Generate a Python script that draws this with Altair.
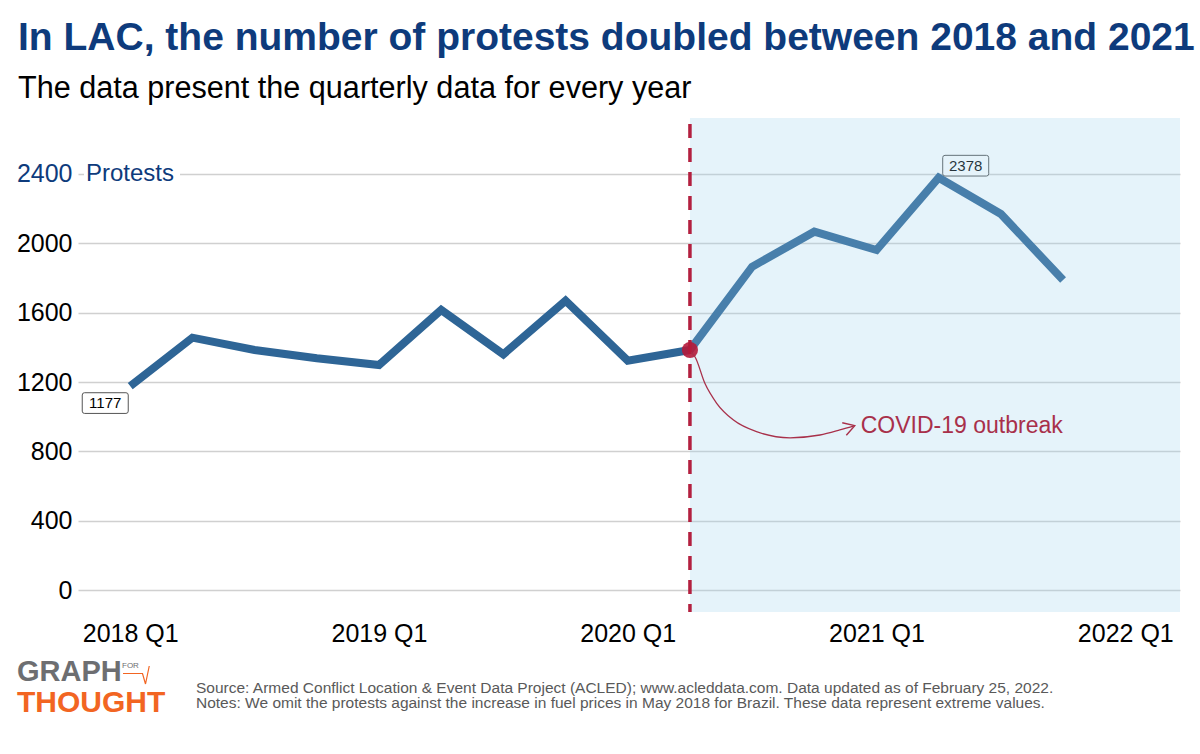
import altair as alt
import pandas as pd

# ---------------- data ----------------
quarters = ["2018 Q1", "2018 Q2", "2018 Q3", "2018 Q4",
            "2019 Q1", "2019 Q2", "2019 Q3", "2019 Q4",
            "2020 Q1", "2020 Q2", "2020 Q3", "2020 Q4",
            "2021 Q1", "2021 Q2", "2021 Q3", "2021 Q4"]
quarter_index = list(range(16))
protests = [1177, 1456, 1385, 1337, 1298, 1616, 1360, 1669,
            1323, 1385, 1865, 2067, 1961, 2378, 2169, 1788]

x_tick_values = [0, 4, 8, 12, 16]          # 2018 Q1 ... 2022 Q1
y_tick_values = [0, 400, 800, 1200, 1600, 2000, 2400]
covid_index = 9                             # 2020 Q2
covid_value = 1385

label_index = [0, 13]
label_value = [1177, 2378]
label_text = ["1177", "2378"]

# curved annotation arrow (quarter index, protests)
arrow_x = [9.02, 9.08, 9.24, 9.43, 9.70, 10.07, 10.61, 11.09, 11.41, 11.65]
arrow_y = [1370, 1346, 1193, 1078, 981, 914, 879, 895, 924, 949]

title_text = "In LAC, the number of protests doubled between 2018 and 2021"
subtitle_text = "The data present the quarterly data for every year"
source_lines = [
    "Source: Armed Conflict Location & Event Data Project (ACLED); www.acleddata.com. Data updated as of February 25, 2022.",
    "Notes: We omit the protests against the increase in fuel prices in May 2018 for Brazil. These data represent extreme values.",
]

# ---------------- styling ----------------
FONT = "Liberation Sans"
NAVY = "#0E3B7C"
LINE = "#2E6596"
RED = "#B3203F"
X_DOMAIN = [-0.84, 16.88]
Y_DOMAIN = [-125, 2722]
W, H = 1102, 494

xs = alt.Scale(domain=X_DOMAIN, nice=False, zero=False)
ys = alt.Scale(domain=Y_DOMAIN, nice=False, zero=False)

X_AXIS = alt.Axis(
    values=x_tick_values, title=None, grid=False, ticks=False, domain=False,
    labelExpr="(2018 + datum.value / 4) + ' Q1'", labelFontSize=25, labelFont=FONT,
    labelColor="black", labelPadding=9)
Y_AXIS = alt.Axis(
    values=y_tick_values, title=None, grid=True, gridColor="#D0D0D0", gridWidth=1.5,
    ticks=False, domain=False, labelFontSize=25, labelFont=FONT, labelPadding=6, format="d",
    labelColor=alt.condition("datum.value == 2400", alt.value(NAVY), alt.value("black")))


def X(field, **kw):
    return alt.X(field, scale=xs, axis=X_AXIS, **kw)


def Y(field, **kw):
    return alt.Y(field, scale=ys, axis=Y_AXIS, **kw)


df = pd.DataFrame({"idx": quarter_index, "quarter": quarters, "protests": protests})
arrow_df = pd.DataFrame({"idx": arrow_x, "protests": arrow_y, "o": list(range(len(arrow_x)))})

line = alt.Chart(df).mark_line(color=LINE, strokeWidth=8, strokeCap="butt", strokeJoin="miter").encode(
    x=X("idx:Q"), y=Y("protests:Q"))

# white mask over the 2400 gridline behind "Protests"
mask = alt.Chart(pd.DataFrame({"protests": [2300], "b": [2500]})).mark_rect(color="white").encode(
    x=alt.value(6), x2=alt.value(102), y=Y("protests:Q"), y2="b:Q")

protests_label = alt.Chart(pd.DataFrame({"protests": [2400]})).mark_text(
    text="Protests", font=FONT, fontSize=24, color=NAVY, align="left", baseline="middle"
).encode(x=alt.value(8), y=Y("protests:Q"))

box_path = ("M-0.9,-0.45 L0.9,-0.45 Q1,-0.45 1,-0.35 L1,0.35 Q1,0.45 0.9,0.45 "
            "L-0.9,0.45 Q-1,0.45 -1,0.35 L-1,-0.35 Q-1,-0.45 -0.9,-0.45 Z")


def value_label(i, dx, dy):
    d = pd.DataFrame({"idx": [label_index[i]], "protests": [label_value[i]], "t": [label_text[i]]})
    b = alt.Chart(d).mark_point(shape=box_path, size=2116, filled=True, fill="white",
                                stroke="#555555", strokeWidth=1, opacity=1,
                                xOffset=dx, yOffset=dy).encode(x=X("idx:Q"), y=Y("protests:Q"))
    t = alt.Chart(d).mark_text(font=FONT, fontSize=15, color="black", dx=dx, dy=dy,
                               baseline="middle").encode(x=X("idx:Q"), y=Y("protests:Q"), text="t:N")
    return b + t


lab1 = value_label(0, -25, 17)
lab2 = value_label(1, 27, -12)

shade = alt.Chart(pd.DataFrame({"idx": [covid_index], "b": [X_DOMAIN[1]]})).mark_rect(
    color="#97CFEB", opacity=0.25).encode(
    x=X("idx:Q"), x2="b:Q", y=alt.value(0), y2=alt.value(H))

rule = alt.Chart(pd.DataFrame({"idx": [covid_index]})).mark_rule(
    color=RED, strokeWidth=3.5, strokeDash=[14, 10], strokeDashOffset=-6).encode(x=X("idx:Q"))

dot = alt.Chart(pd.DataFrame({"idx": [covid_index], "protests": [covid_value]})).mark_circle(
    color="#B5193A", size=260, opacity=0.9).encode(x=X("idx:Q"), y=Y("protests:Q"))

arrow = alt.Chart(arrow_df).mark_line(color="#A8304A", strokeWidth=1.3, interpolate="monotone").encode(
    x=X("idx:Q"), y=Y("protests:Q"), order="o:Q")

end_df = pd.DataFrame({"idx": [arrow_x[-1]], "protests": [arrow_y[-1]]})
head = alt.Chart(end_df).mark_point(
    shape="M-1,-0.6 L0,0 L-1,0.6", size=484, filled=False, stroke="#A8304A",
    strokeWidth=1.4, angle=342, opacity=1).encode(x=X("idx:Q"), y=Y("protests:Q"))

covid_text = alt.Chart(end_df).mark_text(
    text="COVID-19 outbreak", font=FONT, fontSize=23, color="#A8304A", align="left",
    baseline="middle", dx=6).encode(x=X("idx:Q"), y=Y("protests:Q"))

one = pd.DataFrame({"a": [0]})
logo_graph = alt.Chart(one).mark_text(text="GRAPH", font=FONT, fontWeight="bold", fontSize=29,
                                      color="#6D6E71", align="left", baseline="alphabetic").encode(
    x=alt.value(-61), y=alt.value(563))
logo_thought = alt.Chart(one).mark_text(text="THOUGHT", font=FONT, fontWeight="bold", fontSize=30,
                                        color="#F26522", align="left", baseline="alphabetic").encode(
    x=alt.value(-61), y=alt.value(594))
logo_for = alt.Chart(one).mark_text(text="FOR", font=FONT, fontSize=8, color="#6D6E71",
                                    align="left", baseline="alphabetic").encode(
    x=alt.value(44), y=alt.value(550))
logo_root = alt.Chart(one).mark_point(shape="M-1,-0.1 L0.3,-0.1 L0.5,0.6 L0.75,-0.6",
                                      size=900, filled=False, stroke="#F26522", strokeWidth=1.2,
                                      opacity=1).encode(x=alt.value(60), y=alt.value(557))

src1 = alt.Chart(one).mark_text(text=source_lines[0], font=FONT, fontSize=15.5, color="#595959",
                                align="left", baseline="alphabetic").encode(
    x=alt.value(118), y=alt.value(575))
src2 = alt.Chart(one).mark_text(text=source_lines[1], font=FONT, fontSize=15.5, color="#595959",
                                align="left", baseline="alphabetic").encode(
    x=alt.value(118), y=alt.value(590))

chart = alt.layer(
    line, mask, lab1, lab2, shade, rule, dot, arrow, head, covid_text, protests_label,
    logo_graph, logo_thought, logo_for, logo_root, src1, src2,
).properties(
    width=W, height=H,
    background="white",
    autosize=alt.AutoSizeParams(type="none"),
    padding={"left": 78, "top": 118, "right": 20, "bottom": 142},
    title=alt.TitleParams(
        text=title_text, subtitle=subtitle_text, anchor="start", frame="group", dx=-60,
        font=FONT, fontSize=39, fontWeight="bold", color=NAVY,
        subtitleFont=FONT, subtitleFontSize=30.6, subtitleColor="black",
        subtitlePadding=16, offset=12,
    ),
).configure_view(stroke=None)

chart.save("out.html", embed_options={"renderer": "svg", "actions": False})
